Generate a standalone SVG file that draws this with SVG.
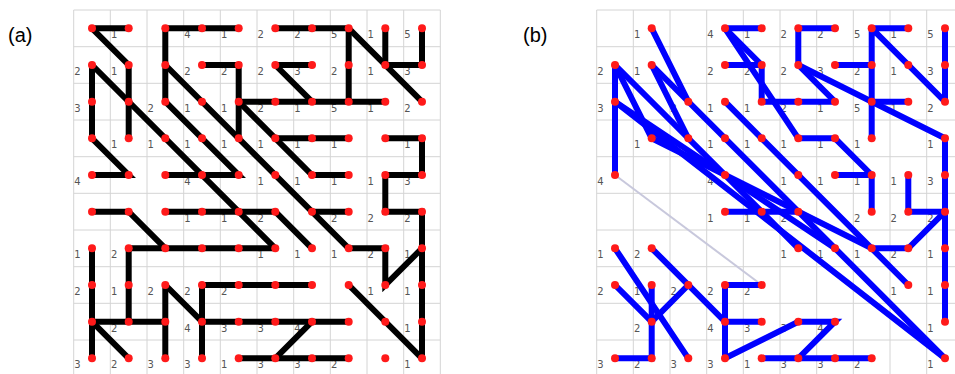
<svg xmlns="http://www.w3.org/2000/svg" width="955" height="374" viewBox="0 0 955 374">
<style>
.grid{stroke:#d4d4d4;stroke-width:1;fill:none}
.ea{stroke:#000;stroke-width:6;stroke-linecap:round;fill:none}
.eb{stroke:#0000ff;stroke-width:6;stroke-linecap:round;fill:none}
.faint{stroke:#c8c8dc;stroke-width:2;fill:none}
.nodes circle{fill:#ff1a1a}
.lbl text{font-family:"DejaVu Sans","Liberation Sans",sans-serif;font-size:10px;fill:#555;text-anchor:middle}
.cap{font-family:"Liberation Sans","DejaVu Sans",sans-serif;font-size:20px;fill:#000}
</style>
<text class="cap" x="8" y="42">(a)</text>
<text class="cap" x="523" y="42">(b)</text>
<g id="grid-a" class="grid">
<path d="M73.7,10V374M110.3,10V374M147,10V374M183.7,10V374M220.3,10V374M257,10V374M293.7,10V374M330.3,10V374M367,10V374M403.7,10V374M440.3,10V374"/>
<path d="M73.7,10H440.3M73.7,46.7H440.3M73.7,83.3H440.3M73.7,120H440.3M73.7,156.7H440.3M73.7,193.3H440.3M73.7,230H440.3M73.7,266.7H440.3M73.7,303.3H440.3M73.7,340H440.3"/>
</g>
<g id="grid-b" class="grid">
<path d="M596.7,10V374M633.3,10V374M670,10V374M706.7,10V374M743.3,10V374M780,10V374M816.7,10V374M853.3,10V374M890,10V374M926.7,10V374"/>
<path d="M596.7,10H955M596.7,46.7H955M596.7,83.3H955M596.7,120H955M596.7,156.7H955M596.7,193.3H955M596.7,230H955M596.7,266.7H955M596.7,303.3H955M596.7,340H955"/>
</g>
<g id="labels-a" class="lbl">
<text x="114.2" y="38.3">1</text><text x="187.5" y="38.3">4</text><text x="224.2" y="38.3">1</text><text x="260.8" y="38.3">2</text><text x="297.5" y="38.3">2</text><text x="334.2" y="38.3">5</text><text x="370.8" y="38.3">1</text><text x="407.5" y="38.3">5</text>
<text x="77.5" y="75">2</text><text x="114.2" y="75">1</text><text x="187.5" y="75">2</text><text x="224.2" y="75">2</text><text x="260.8" y="75">2</text><text x="297.5" y="75">3</text><text x="334.2" y="75">2</text><text x="370.8" y="75">1</text><text x="407.5" y="75">3</text>
<text x="77.5" y="111.7">3</text><text x="150.8" y="111.7">2</text><text x="187.5" y="111.7">1</text><text x="224.2" y="111.7">1</text><text x="260.8" y="111.7">2</text><text x="297.5" y="111.7">1</text><text x="334.2" y="111.7">5</text><text x="370.8" y="111.7">1</text><text x="407.5" y="111.7">2</text>
<text x="114.2" y="148.3">1</text><text x="150.8" y="148.3">1</text><text x="187.5" y="148.3">1</text><text x="224.2" y="148.3">1</text><text x="260.8" y="148.3">1</text><text x="297.5" y="148.3">1</text><text x="334.2" y="148.3">1</text><text x="407.5" y="148.3">1</text>
<text x="77.5" y="185">4</text><text x="187.5" y="185">4</text><text x="260.8" y="185">1</text><text x="297.5" y="185">1</text><text x="334.2" y="185">1</text><text x="370.8" y="185">1</text><text x="407.5" y="185">3</text>
<text x="187.5" y="221.7">1</text><text x="224.2" y="221.7">1</text><text x="260.8" y="221.7">2</text><text x="334.2" y="221.7">2</text><text x="370.8" y="221.7">2</text><text x="407.5" y="221.7">2</text>
<text x="77.5" y="258.3">1</text><text x="114.2" y="258.3">2</text><text x="260.8" y="258.3">1</text><text x="297.5" y="258.3">1</text><text x="334.2" y="258.3">1</text><text x="370.8" y="258.3">2</text><text x="407.5" y="258.3">1</text>
<text x="77.5" y="295">2</text><text x="114.2" y="295">1</text><text x="150.8" y="295">2</text><text x="187.5" y="295">2</text><text x="224.2" y="295">2</text><text x="370.8" y="295">1</text><text x="407.5" y="295">1</text>
<text x="114.2" y="331.7">2</text><text x="187.5" y="331.7">4</text><text x="224.2" y="331.7">3</text><text x="260.8" y="331.7">3</text><text x="297.5" y="331.7">4</text><text x="407.5" y="331.7">1</text>
<text x="77.5" y="368.3">3</text><text x="114.2" y="368.3">2</text><text x="150.8" y="368.3">3</text><text x="187.5" y="368.3">3</text><text x="224.2" y="368.3">1</text><text x="260.8" y="368.3">3</text><text x="297.5" y="368.3">3</text><text x="334.2" y="368.3">2</text><text x="407.5" y="368.3">1</text>
</g>
<g id="labels-b" class="lbl" transform="translate(523,0)">
<text x="114.2" y="38.3">1</text><text x="187.5" y="38.3">4</text><text x="224.2" y="38.3">1</text><text x="260.8" y="38.3">2</text><text x="297.5" y="38.3">2</text><text x="334.2" y="38.3">5</text><text x="370.8" y="38.3">1</text><text x="407.5" y="38.3">5</text>
<text x="77.5" y="75">2</text><text x="114.2" y="75">1</text><text x="187.5" y="75">2</text><text x="224.2" y="75">2</text><text x="260.8" y="75">2</text><text x="297.5" y="75">3</text><text x="334.2" y="75">2</text><text x="370.8" y="75">1</text><text x="407.5" y="75">3</text>
<text x="77.5" y="111.7">3</text><text x="150.8" y="111.7">2</text><text x="187.5" y="111.7">1</text><text x="224.2" y="111.7">1</text><text x="260.8" y="111.7">2</text><text x="297.5" y="111.7">1</text><text x="334.2" y="111.7">5</text><text x="370.8" y="111.7">1</text><text x="407.5" y="111.7">2</text>
<text x="114.2" y="148.3">1</text><text x="150.8" y="148.3">1</text><text x="187.5" y="148.3">1</text><text x="224.2" y="148.3">1</text><text x="260.8" y="148.3">1</text><text x="297.5" y="148.3">1</text><text x="334.2" y="148.3">1</text><text x="407.5" y="148.3">1</text>
<text x="77.5" y="185">4</text><text x="187.5" y="185">4</text><text x="260.8" y="185">1</text><text x="297.5" y="185">1</text><text x="334.2" y="185">1</text><text x="370.8" y="185">1</text><text x="407.5" y="185">3</text>
<text x="187.5" y="221.7">1</text><text x="224.2" y="221.7">1</text><text x="260.8" y="221.7">2</text><text x="334.2" y="221.7">2</text><text x="370.8" y="221.7">2</text><text x="407.5" y="221.7">2</text>
<text x="77.5" y="258.3">1</text><text x="114.2" y="258.3">2</text><text x="260.8" y="258.3">1</text><text x="297.5" y="258.3">1</text><text x="334.2" y="258.3">1</text><text x="370.8" y="258.3">2</text><text x="407.5" y="258.3">1</text>
<text x="77.5" y="295">2</text><text x="114.2" y="295">1</text><text x="150.8" y="295">2</text><text x="187.5" y="295">2</text><text x="224.2" y="295">2</text><text x="370.8" y="295">1</text><text x="407.5" y="295">1</text>
<text x="114.2" y="331.7">2</text><text x="187.5" y="331.7">4</text><text x="224.2" y="331.7">3</text><text x="260.8" y="331.7">3</text><text x="297.5" y="331.7">4</text><text x="407.5" y="331.7">1</text>
<text x="77.5" y="368.3">3</text><text x="114.2" y="368.3">2</text><text x="150.8" y="368.3">3</text><text x="187.5" y="368.3">3</text><text x="224.2" y="368.3">1</text><text x="260.8" y="368.3">3</text><text x="297.5" y="368.3">3</text><text x="334.2" y="368.3">2</text><text x="407.5" y="368.3">1</text>
</g>
<g id="connectors-a" class="ea">
<path d="M92,28.3H128.7M165.3,28.3H238.7M275.3,28.3H348.7"/>
<path d="M92,28.3L128.7,65V138.3"/>
<path d="M165.3,28.3V101.7"/>
<path d="M92,65V138.3"/>
<path d="M92,65L275.3,248.3"/>
<path d="M92,138.3L128.7,175H92"/>
<path d="M202,65H238.7V138.3"/>
<path d="M165.3,65L348.7,248.3"/>
<path d="M165.3,101.7L238.7,175H165.3"/>
<path d="M238.7,101.7H385.3"/>
<path d="M238.7,101.7L312,175H348.7"/>
<path d="M348.7,28.3L422,101.7"/>
<path d="M348.7,28.3V101.7"/>
<path d="M385.3,28.3V65H422V28.3"/>
<path d="M275.3,65H312"/>
<path d="M275.3,65L312,101.7"/>
<path d="M275.3,138.3H348.7"/>
<path d="M385.3,138.3H422V175H385.3V211.7H422V358.3"/>
<path d="M92,211.7H128.7L165.3,248.3"/>
<path d="M165.3,211.7H275.3"/>
<path d="M275.3,211.7L312,248.3"/>
<path d="M312,211.7H348.7"/>
<path d="M128.7,248.3H275.3"/>
<path d="M128.7,248.3V321.7"/>
<path d="M92,248.3V358.3"/>
<path d="M92,321.7H165.3"/>
<path d="M92,321.7L128.7,358.3"/>
<path d="M165.3,285V358.3"/>
<path d="M165.3,285L202,321.7"/>
<path d="M202,285V358.3"/>
<path d="M202,285H312"/>
<path d="M202,321.7H348.7"/>
<path d="M312,321.7L275.3,358.3"/>
<path d="M238.7,358.3H348.7"/>
<path d="M348.7,248.3H385.3V285L422,248.3"/>
<path d="M348.7,285L422,358.3"/>
</g>
<g id="connectors-b">
<path class="faint" d="M615,175L761.7,285"/>
<g class="eb">
<path d="M651.7,28.3L688.3,101.7"/>
<path d="M615,65V175"/>
<path d="M615,65L651.7,138.3"/>
<path d="M615,65L798.3,248.3"/>
<path d="M651.7,65L688.3,138.3"/>
<path d="M651.7,65L945,358.3"/>
<path d="M615,101.7L835,248.3"/>
<path d="M615,101.7L945,358.3"/>
<path d="M651.7,138.3L871.7,248.3"/>
<path d="M725,101.7L908.3,285"/>
<path d="M725,28.3H761.7"/>
<path d="M725,65H761.7V101.7H835"/>
<path d="M725,28.3L761.7,65"/>
<path d="M725,28.3L798.3,138.3"/>
<path d="M798.3,28.3H835M798.3,28.3V65"/>
<path d="M871.7,28.3H908.3M871.7,28.3V138.3M871.7,28.3L945,101.7M945,28.3V101.7"/>
<path d="M835,65H871.7"/>
<path d="M871.7,101.7H908.3"/>
<path d="M798.3,65L945,138.3"/>
<path d="M798.3,65L835,101.7"/>
<path d="M798.3,138.3H835L871.7,175"/>
<path d="M835,175H871.7V211.7"/>
<path d="M908.3,175V211.7H945"/>
<path d="M945,138.3V321.7"/>
<path d="M945,211.7L908.3,248.3H871.7"/>
<path d="M725,211.7H798.3"/>
<path d="M615,248.3L688.3,358.3"/>
<path d="M615,285L651.7,321.7L688.3,285"/>
<path d="M651.7,248.3L725,321.7"/>
<path d="M651.7,285V358.3H615"/>
<path d="M725,285V358.3"/>
<path d="M725,285H761.7"/>
<path d="M725,321.7H761.7"/>
<path d="M725,358.3L798.3,321.7H835L798.3,358.3"/>
<path d="M761.7,358.3H871.7"/>
</g>
</g>
<g id="nodes-a" class="nodes">
<g id="a-r0c0"><circle cx="92" cy="28.3" r="4"/></g><g id="a-r0c1"><circle cx="128.7" cy="28.3" r="4"/></g><g id="a-r0c2"><circle cx="165.3" cy="28.3" r="4"/></g><g id="a-r0c3"><circle cx="202" cy="28.3" r="4"/></g><g id="a-r0c4"><circle cx="238.7" cy="28.3" r="4"/></g><g id="a-r0c5"><circle cx="275.3" cy="28.3" r="4"/></g><g id="a-r0c6"><circle cx="312" cy="28.3" r="4"/></g><g id="a-r0c7"><circle cx="348.7" cy="28.3" r="4"/></g><g id="a-r0c8"><circle cx="385.3" cy="28.3" r="4"/></g><g id="a-r0c9"><circle cx="422" cy="28.3" r="4"/></g>
<g id="a-r1c0"><circle cx="92" cy="65" r="4"/></g><g id="a-r1c1"><circle cx="128.7" cy="65" r="4"/></g><g id="a-r1c2"><circle cx="165.3" cy="65" r="4"/></g><g id="a-r1c3"><circle cx="202" cy="65" r="4"/></g><g id="a-r1c4"><circle cx="238.7" cy="65" r="4"/></g><g id="a-r1c5"><circle cx="275.3" cy="65" r="4"/></g><g id="a-r1c6"><circle cx="312" cy="65" r="4"/></g><g id="a-r1c7"><circle cx="348.7" cy="65" r="4"/></g><g id="a-r1c8"><circle cx="385.3" cy="65" r="4"/></g><g id="a-r1c9"><circle cx="422" cy="65" r="4"/></g>
<g id="a-r2c0"><circle cx="92" cy="101.7" r="4"/></g><g id="a-r2c1"><circle cx="128.7" cy="101.7" r="4"/></g><g id="a-r2c2"><circle cx="165.3" cy="101.7" r="4"/></g><g id="a-r2c3"><circle cx="202" cy="101.7" r="4"/></g><g id="a-r2c4"><circle cx="238.7" cy="101.7" r="4"/></g><g id="a-r2c5"><circle cx="275.3" cy="101.7" r="4"/></g><g id="a-r2c6"><circle cx="312" cy="101.7" r="4"/></g><g id="a-r2c7"><circle cx="348.7" cy="101.7" r="4"/></g><g id="a-r2c8"><circle cx="385.3" cy="101.7" r="4"/></g><g id="a-r2c9"><circle cx="422" cy="101.7" r="4"/></g>
<g id="a-r3c0"><circle cx="92" cy="138.3" r="4"/></g><g id="a-r3c1"><circle cx="128.7" cy="138.3" r="4"/></g><g id="a-r3c2"><circle cx="165.3" cy="138.3" r="4"/></g><g id="a-r3c3"><circle cx="202" cy="138.3" r="4"/></g><g id="a-r3c4"><circle cx="238.7" cy="138.3" r="4"/></g><g id="a-r3c5"><circle cx="275.3" cy="138.3" r="4"/></g><g id="a-r3c6"><circle cx="312" cy="138.3" r="4"/></g><g id="a-r3c7"><circle cx="348.7" cy="138.3" r="4"/></g><g id="a-r3c8"><circle cx="385.3" cy="138.3" r="4"/></g><g id="a-r3c9"><circle cx="422" cy="138.3" r="4"/></g>
<g id="a-r4c0"><circle cx="92" cy="175" r="4"/></g><g id="a-r4c1"><circle cx="128.7" cy="175" r="4"/></g><g id="a-r4c2"><circle cx="165.3" cy="175" r="4"/></g><g id="a-r4c3"><circle cx="202" cy="175" r="4"/></g><g id="a-r4c4"><circle cx="238.7" cy="175" r="4"/></g><g id="a-r4c5"><circle cx="275.3" cy="175" r="4"/></g><g id="a-r4c6"><circle cx="312" cy="175" r="4"/></g><g id="a-r4c7"><circle cx="348.7" cy="175" r="4"/></g><g id="a-r4c8"><circle cx="385.3" cy="175" r="4"/></g><g id="a-r4c9"><circle cx="422" cy="175" r="4"/></g>
<g id="a-r5c0"><circle cx="92" cy="211.7" r="4"/></g><g id="a-r5c1"><circle cx="128.7" cy="211.7" r="4"/></g><g id="a-r5c2"><circle cx="165.3" cy="211.7" r="4"/></g><g id="a-r5c3"><circle cx="202" cy="211.7" r="4"/></g><g id="a-r5c4"><circle cx="238.7" cy="211.7" r="4"/></g><g id="a-r5c5"><circle cx="275.3" cy="211.7" r="4"/></g><g id="a-r5c6"><circle cx="312" cy="211.7" r="4"/></g><g id="a-r5c7"><circle cx="348.7" cy="211.7" r="4"/></g><g id="a-r5c8"><circle cx="385.3" cy="211.7" r="4"/></g><g id="a-r5c9"><circle cx="422" cy="211.7" r="4"/></g>
<g id="a-r6c0"><circle cx="92" cy="248.3" r="4"/></g><g id="a-r6c1"><circle cx="128.7" cy="248.3" r="4"/></g><g id="a-r6c2"><circle cx="165.3" cy="248.3" r="4"/></g><g id="a-r6c3"><circle cx="202" cy="248.3" r="4"/></g><g id="a-r6c4"><circle cx="238.7" cy="248.3" r="4"/></g><g id="a-r6c5"><circle cx="275.3" cy="248.3" r="4"/></g><g id="a-r6c6"><circle cx="312" cy="248.3" r="4"/></g><g id="a-r6c7"><circle cx="348.7" cy="248.3" r="4"/></g><g id="a-r6c8"><circle cx="385.3" cy="248.3" r="4"/></g><g id="a-r6c9"><circle cx="422" cy="248.3" r="4"/></g>
<g id="a-r7c0"><circle cx="92" cy="285" r="4"/></g><g id="a-r7c1"><circle cx="128.7" cy="285" r="4"/></g><g id="a-r7c2"><circle cx="165.3" cy="285" r="4"/></g><g id="a-r7c3"><circle cx="202" cy="285" r="4"/></g><g id="a-r7c4"><circle cx="238.7" cy="285" r="4"/></g><g id="a-r7c5"><circle cx="275.3" cy="285" r="4"/></g><g id="a-r7c6"><circle cx="312" cy="285" r="4"/></g><g id="a-r7c7"><circle cx="348.7" cy="285" r="4"/></g><g id="a-r7c8"><circle cx="385.3" cy="285" r="4"/></g><g id="a-r7c9"><circle cx="422" cy="285" r="4"/></g>
<g id="a-r8c0"><circle cx="92" cy="321.7" r="4"/></g><g id="a-r8c1"><circle cx="128.7" cy="321.7" r="4"/></g><g id="a-r8c2"><circle cx="165.3" cy="321.7" r="4"/></g><g id="a-r8c3"><circle cx="202" cy="321.7" r="4"/></g><g id="a-r8c4"><circle cx="238.7" cy="321.7" r="4"/></g><g id="a-r8c5"><circle cx="275.3" cy="321.7" r="4"/></g><g id="a-r8c6"><circle cx="312" cy="321.7" r="4"/></g><g id="a-r8c7"><circle cx="348.7" cy="321.7" r="4"/></g><g id="a-r8c8"><circle cx="385.3" cy="321.7" r="4"/></g><g id="a-r8c9"><circle cx="422" cy="321.7" r="4"/></g>
<g id="a-r9c0"><circle cx="92" cy="358.3" r="4"/></g><g id="a-r9c1"><circle cx="128.7" cy="358.3" r="4"/></g><g id="a-r9c2"><circle cx="165.3" cy="358.3" r="4"/></g><g id="a-r9c3"><circle cx="202" cy="358.3" r="4"/></g><g id="a-r9c4"><circle cx="238.7" cy="358.3" r="4"/></g><g id="a-r9c5"><circle cx="275.3" cy="358.3" r="4"/></g><g id="a-r9c6"><circle cx="312" cy="358.3" r="4"/></g><g id="a-r9c7"><circle cx="348.7" cy="358.3" r="4"/></g><g id="a-r9c8"><circle cx="385.3" cy="358.3" r="4"/></g><g id="a-r9c9"><circle cx="422" cy="358.3" r="4"/></g>
</g>
<g id="nodes-b" class="nodes">
<g id="b-r0c1"><circle cx="651.7" cy="28.3" r="4"/></g><g id="b-r0c3"><circle cx="725" cy="28.3" r="4"/></g><g id="b-r0c4"><circle cx="761.7" cy="28.3" r="4"/></g><g id="b-r0c5"><circle cx="798.3" cy="28.3" r="4"/></g><g id="b-r0c6"><circle cx="835" cy="28.3" r="4"/></g><g id="b-r0c7"><circle cx="871.7" cy="28.3" r="4"/></g><g id="b-r0c8"><circle cx="908.3" cy="28.3" r="4"/></g><g id="b-r0c9"><circle cx="945" cy="28.3" r="4"/></g>
<g id="b-r1c0"><circle cx="615" cy="65" r="4"/></g><g id="b-r1c1"><circle cx="651.7" cy="65" r="4"/></g><g id="b-r1c3"><circle cx="725" cy="65" r="4"/></g><g id="b-r1c4"><circle cx="761.7" cy="65" r="4"/></g><g id="b-r1c5"><circle cx="798.3" cy="65" r="4"/></g><g id="b-r1c6"><circle cx="835" cy="65" r="4"/></g><g id="b-r1c7"><circle cx="871.7" cy="65" r="4"/></g><g id="b-r1c8"><circle cx="908.3" cy="65" r="4"/></g><g id="b-r1c9"><circle cx="945" cy="65" r="4"/></g>
<g id="b-r2c0"><circle cx="615" cy="101.7" r="4"/></g><g id="b-r2c2"><circle cx="688.3" cy="101.7" r="4"/></g><g id="b-r2c3"><circle cx="725" cy="101.7" r="4"/></g><g id="b-r2c4"><circle cx="761.7" cy="101.7" r="4"/></g><g id="b-r2c5"><circle cx="798.3" cy="101.7" r="4"/></g><g id="b-r2c6"><circle cx="835" cy="101.7" r="4"/></g><g id="b-r2c7"><circle cx="871.7" cy="101.7" r="4"/></g><g id="b-r2c8"><circle cx="908.3" cy="101.7" r="4"/></g><g id="b-r2c9"><circle cx="945" cy="101.7" r="4"/></g>
<g id="b-r3c1"><circle cx="651.7" cy="138.3" r="4"/></g><g id="b-r3c2"><circle cx="688.3" cy="138.3" r="4"/></g><g id="b-r3c3"><circle cx="725" cy="138.3" r="4"/></g><g id="b-r3c4"><circle cx="761.7" cy="138.3" r="4"/></g><g id="b-r3c5"><circle cx="798.3" cy="138.3" r="4"/></g><g id="b-r3c6"><circle cx="835" cy="138.3" r="4"/></g><g id="b-r3c7"><circle cx="871.7" cy="138.3" r="4"/></g><g id="b-r3c9"><circle cx="945" cy="138.3" r="4"/></g>
<g id="b-r4c0"><circle cx="615" cy="175" r="4"/></g><g id="b-r4c3"><circle cx="725" cy="175" r="4"/></g><g id="b-r4c5"><circle cx="798.3" cy="175" r="4"/></g><g id="b-r4c6"><circle cx="835" cy="175" r="4"/></g><g id="b-r4c7"><circle cx="871.7" cy="175" r="4"/></g><g id="b-r4c8"><circle cx="908.3" cy="175" r="4"/></g><g id="b-r4c9"><circle cx="945" cy="175" r="4"/></g>
<g id="b-r5c3"><circle cx="725" cy="211.7" r="4"/></g><g id="b-r5c4"><circle cx="761.7" cy="211.7" r="4"/></g><g id="b-r5c5"><circle cx="798.3" cy="211.7" r="4"/></g><g id="b-r5c7"><circle cx="871.7" cy="211.7" r="4"/></g><g id="b-r5c8"><circle cx="908.3" cy="211.7" r="4"/></g><g id="b-r5c9"><circle cx="945" cy="211.7" r="4"/></g>
<g id="b-r6c0"><circle cx="615" cy="248.3" r="4"/></g><g id="b-r6c1"><circle cx="651.7" cy="248.3" r="4"/></g><g id="b-r6c5"><circle cx="798.3" cy="248.3" r="4"/></g><g id="b-r6c6"><circle cx="835" cy="248.3" r="4"/></g><g id="b-r6c7"><circle cx="871.7" cy="248.3" r="4"/></g><g id="b-r6c8"><circle cx="908.3" cy="248.3" r="4"/></g><g id="b-r6c9"><circle cx="945" cy="248.3" r="4"/></g>
<g id="b-r7c0"><circle cx="615" cy="285" r="4"/></g><g id="b-r7c1"><circle cx="651.7" cy="285" r="4"/></g><g id="b-r7c2"><circle cx="688.3" cy="285" r="4"/></g><g id="b-r7c3"><circle cx="725" cy="285" r="4"/></g><g id="b-r7c4"><circle cx="761.7" cy="285" r="4"/></g><g id="b-r7c8"><circle cx="908.3" cy="285" r="4"/></g><g id="b-r7c9"><circle cx="945" cy="285" r="4"/></g>
<g id="b-r8c1"><circle cx="651.7" cy="321.7" r="4"/></g><g id="b-r8c3"><circle cx="725" cy="321.7" r="4"/></g><g id="b-r8c4"><circle cx="761.7" cy="321.7" r="4"/></g><g id="b-r8c5"><circle cx="798.3" cy="321.7" r="4"/></g><g id="b-r8c6"><circle cx="835" cy="321.7" r="4"/></g><g id="b-r8c9"><circle cx="945" cy="321.7" r="4"/></g>
<g id="b-r9c0"><circle cx="615" cy="358.3" r="4"/></g><g id="b-r9c1"><circle cx="651.7" cy="358.3" r="4"/></g><g id="b-r9c2"><circle cx="688.3" cy="358.3" r="4"/></g><g id="b-r9c3"><circle cx="725" cy="358.3" r="4"/></g><g id="b-r9c4"><circle cx="761.7" cy="358.3" r="4"/></g><g id="b-r9c5"><circle cx="798.3" cy="358.3" r="4"/></g><g id="b-r9c6"><circle cx="835" cy="358.3" r="4"/></g><g id="b-r9c7"><circle cx="871.7" cy="358.3" r="4"/></g><g id="b-r9c9"><circle cx="945" cy="358.3" r="4"/></g>
</g>
</svg>
